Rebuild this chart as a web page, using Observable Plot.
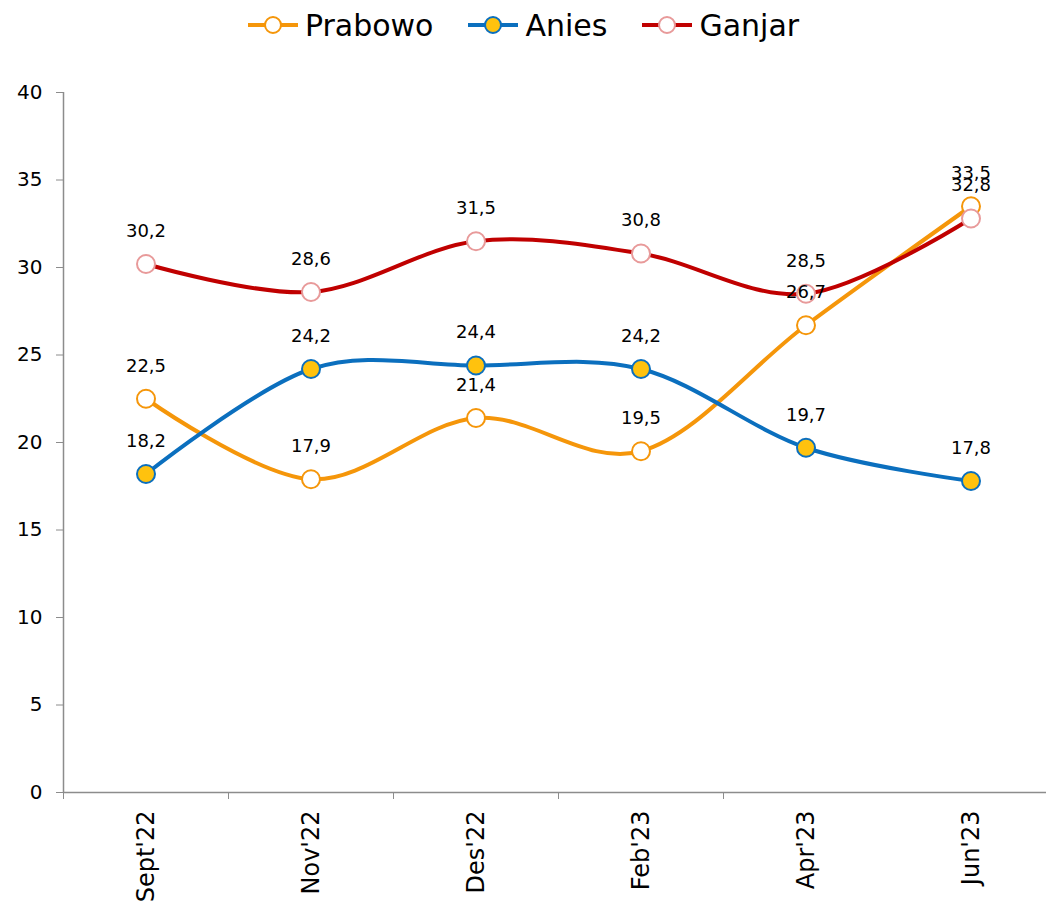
<!DOCTYPE html>
<html><head><meta charset="utf-8">
<script src="https://cdn.jsdelivr.net/npm/d3@7"></script>
<script src="https://cdn.jsdelivr.net/npm/@observablehq/plot@0.6"></script>
<style>
html,body{margin:0;padding:0;background:#fff;overflow:hidden;font-family:"DejaVu Sans",sans-serif;}
#legend{height:50px;display:flex;justify-content:center;align-items:center;gap:34px;font-size:30px;color:#000;}
.item{display:flex;align-items:center;gap:6px;}
#chart svg{overflow:hidden;display:block;}
</style></head><body>
<div id="legend"></div><div id="chart"></div>
<script>
const categories = ["Sept'22","Nov'22","Des'22","Feb'23","Apr'23","Jun'23"];
const seriesNames = ["Prabowo","Anies","Ganjar"];
const prabowo = [22.5,17.9,21.4,19.5,26.7,33.5];
const anies = [18.2,24.2,24.4,24.2,19.7,17.8];
const ganjar = [30.2,28.6,31.5,30.8,28.5,32.8];
const yTicks = [0,5,10,15,20,25,30,35,40];

const styles = {
  Prabowo:{line:"#F5960A", fill:"#ffffff", stroke:"#F5960A"},
  Anies:{line:"#0B6FBE", fill:"#FFC20E", stroke:"#0B6FBE"},
  Ganjar:{line:"#C00000", fill:"#ffffff", stroke:"#E89A9A"}
};
const values = {Prabowo:prabowo, Anies:anies, Ganjar:ganjar};
const fmt = v => d3.format(".1f")(v).replace(".", ",");
const gray = "#8c8c8c";

// Legend
const legend = document.getElementById("legend");
for (const s of seriesNames) {
  const st = styles[s];
  const item = document.createElement("div");
  item.className = "item";
  item.innerHTML = `<svg width="52" height="22"><line x1="1" x2="51" y1="11" y2="11" stroke="${st.line}" stroke-width="4"/><circle cx="26" cy="11" r="8" fill="${st.fill}" stroke="${st.stroke}" stroke-width="2"/></svg><span>${s}</span>`;
  legend.appendChild(item);
}

const idx = categories.map((_, i) => i);
const boundaries = categories.slice(0, -1).map((_, i) => i - 0.5);

const marks = [
  Plot.ruleY([0], {stroke: gray, strokeWidth: 1.5}),
  Plot.ruleX([-0.5], {stroke: gray, strokeWidth: 1.5}),
  Plot.axisY({ticks: yTicks, label: null, tickSize: 7, tickPadding: 14, fontSize: 20, stroke: gray, fill: "#000"}),
  Plot.axisX({ticks: boundaries, label: null, tickSize: 7, tickFormat: () => "", stroke: gray}),
  Plot.axisX({ticks: idx, label: null, tickFormat: i => categories[i], tickSize: 0, tickPadding: 18, tickRotate: -90, fontSize: 24, fill: "#000"})
];
for (const s of seriesNames) {
  const rows = values[s].map((v, i) => ({i, v}));
  marks.push(Plot.line(rows, {x: "i", y: "v", stroke: styles[s].line, strokeWidth: 4, curve: "cardinal", tension: 0}));
  marks.push(Plot.dot(rows, {x: "i", y: "v", r: 9, fill: styles[s].fill, stroke: styles[s].stroke, strokeWidth: 2}));
}
for (const s of seriesNames) {
  const rows = values[s].map((v, i) => ({i, v}));
  marks.push(Plot.text(rows, {x: "i", y: "v", text: d => fmt(d.v), dy: -33, fontSize: 18, fill: "#000"}));
}

const chart = Plot.plot({
  width: 1046, height: 852,
  marginTop: 42, marginBottom: 110, marginLeft: 63, marginRight: 0,
  x: {type: "linear", domain: [-0.5, 5.5], range: [63, 1053]},
  y: {domain: [0, 40]},
  style: {fontFamily: "DejaVu Sans", color: "#000", background: "#fff"},
  marks
});
document.getElementById("chart").appendChild(chart);
</script>
</body></html>
